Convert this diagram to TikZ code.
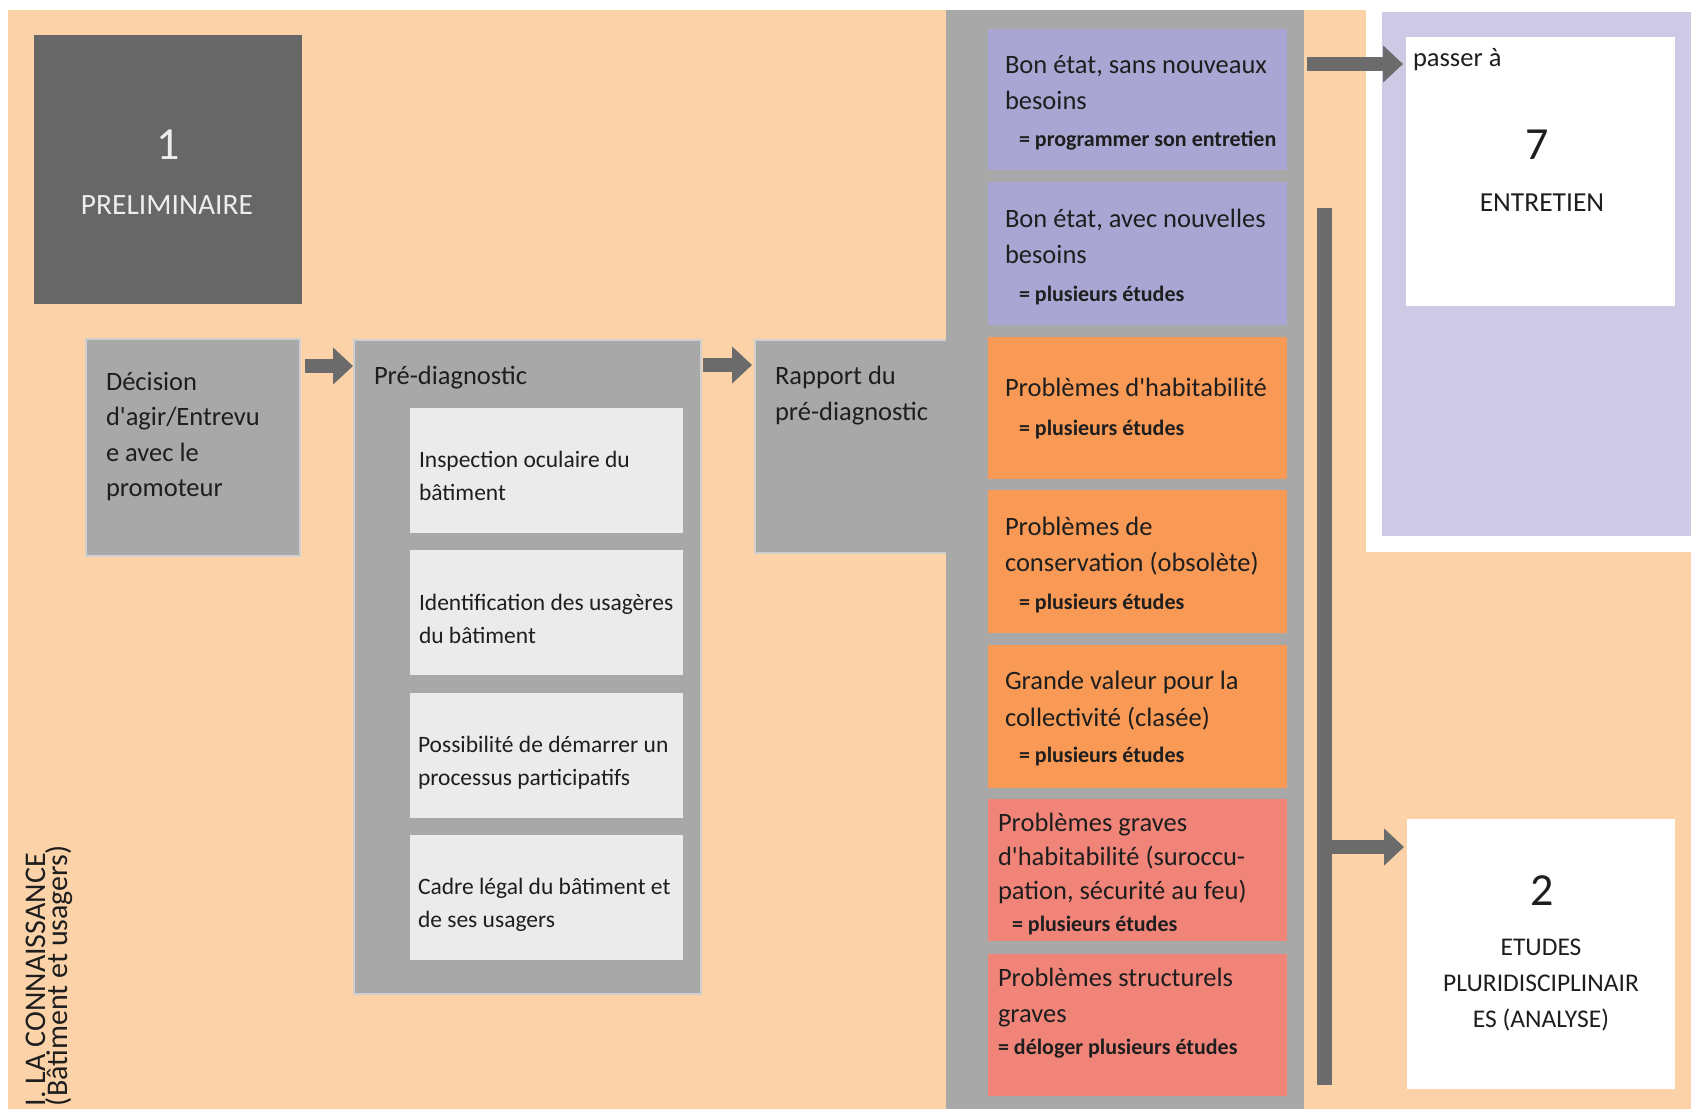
\documentclass[tikz,border=0pt]{standalone}
\usepackage{fontspec}
\setmainfont{Carlito}[Ligatures=TeXOff]
\usetikzlibrary{arrows.meta,calc}
\definecolor{peach}{HTML}{FCD3A8}
\definecolor{darkbox}{HTML}{676767}
\definecolor{midgray}{HTML}{A8A8A8}
\definecolor{edgegray}{HTML}{CFCFCF}
\definecolor{lightbox}{HTML}{EBEBEB}
\definecolor{purplebox}{HTML}{A9A6D3}
\definecolor{orangebox}{HTML}{F89A55}
\definecolor{redbox}{HTML}{F18479}
\definecolor{lavender}{HTML}{CECAE6}
\definecolor{arrowgray}{HTML}{6B6B6B}
\definecolor{ink}{HTML}{1E1E1E}
\definecolor{prelimtext}{HTML}{EDEDED}
\newcommand\mlines[2]{\vtop{\baselineskip=#1\lineskiplimit=-\maxdimen\lineskip=0pt\relax#2}}
\begin{document}
\begin{tikzpicture}[x=1pt,y=-1pt,
  area/.style={fill=#1,draw=none,inner sep=0pt,outer sep=0pt,anchor=north west},
  txt/.style={inner sep=0pt,outer sep=0pt,text=ink,anchor=base west,font=\fontsize{26.5}{32}\selectfont},
  smalltxt/.style={txt,font=\fontsize{23.5}{28}\selectfont},
  boldtxt/.style={txt,font=\bfseries\fontsize{22}{26}\selectfont},
  bigtxt/.style={txt,anchor=base,font=\fontsize{46}{50}\selectfont},
  captxt/.style={txt,anchor=base,font=\fontsize{#1}{30}\selectfont},
  bigarrow/.style={draw=arrowgray,line width=14pt,-{Triangle[length=20pt,width=36pt]}}]
\useasboundingbox (0,0) rectangle (1691,1109);
\fill[white] (0,0) rectangle (1691,1109);
% background
\node[area=peach,minimum width=1683,minimum height=1099] (bg) at (8,10) {};
% preliminaire
\node[area=darkbox,minimum width=268,minimum height=269] (prelim) at (34,35) {};
\node[bigtxt,text=prelimtext] (t1) at (168,159) {1};
\node[captxt=29.5,text=prelimtext] (tprelim) at (167,214) {PRELIMINAIRE};
% decision
\node[area=midgray,draw=edgegray,line width=1.5pt,minimum width=214,minimum height=217] (dec) at (86,339) {};
\node[txt] (tdec) at (106,390) {\mlines{35.6pt}{\hbox{Décision}\hbox{d'agir/Entrevu}\hbox{e avec le}\hbox{promoteur}}};
% pre-diagnostic
\node[area=midgray,draw=edgegray,line width=1.5pt,minimum width=347,minimum height=654] (pre) at (354,340) {};
\node[txt] (tpre) at (374,384) {Pré-diagnostic};
\node[area=lightbox,minimum width=273,minimum height=125] (ib1) at (410,408) {};
\node[area=lightbox,minimum width=273,minimum height=125] (ib2) at (410,550) {};
\node[area=lightbox,minimum width=273,minimum height=125] (ib3) at (410,693) {};
\node[area=lightbox,minimum width=273,minimum height=125] (ib4) at (410,835) {};
\node[smalltxt] (tib1) at (419,467) {\mlines{33.5pt}{\hbox{Inspection oculaire du}\hbox{bâtiment}}};
\node[smalltxt] (tib2) at (419,610) {\mlines{33.5pt}{\hbox{Identification des usagères}\hbox{du bâtiment}}};
\node[smalltxt] (tib3) at (418,752) {\mlines{33.5pt}{\hbox{Possibilité de démarrer un}\hbox{processus participatifs}}};
\node[smalltxt] (tib4) at (418,894) {\mlines{33.5pt}{\hbox{Cadre légal du bâtiment et}\hbox{de ses usagers}}};
% rapport + column
\node[area=midgray,draw=edgegray,line width=1.5pt,minimum width=196,minimum height=213] (rap) at (755,340) {};
\node[area=midgray,minimum width=358,minimum height=1099] (col) at (946,10) {};
\node[txt] (trap) at (775,384) {\mlines{36pt}{\hbox{Rapport du}\hbox{pré-diagnostic}}};
% coloured boxes
\node[area=purplebox,minimum width=299,minimum height=141] (bA) at (988,29) {};
\node[area=purplebox,minimum width=299,minimum height=143] (bB) at (988,182) {};
\node[area=orangebox,minimum width=299,minimum height=142] (bC) at (988,337) {};
\node[area=orangebox,minimum width=299,minimum height=143] (bD) at (988,490) {};
\node[area=orangebox,minimum width=299,minimum height=143] (bE) at (988,645) {};
\node[area=redbox,minimum width=299,minimum height=142] (bF) at (988,799) {};
\node[area=redbox,minimum width=299,minimum height=142] (bG) at (988,954) {};
\node[txt] (tA) at (1005,73) {\mlines{36pt}{\hbox{Bon état, sans nouveaux}\hbox{besoins}}};
\node[boldtxt] (sA) at (1019,146) {= programmer son entretien};
\node[txt] (tB) at (1005,227) {\mlines{36pt}{\hbox{Bon état, avec nouvelles}\hbox{besoins}}};
\node[boldtxt] (sB) at (1019,301) {= plusieurs études};
\node[txt] (tC) at (1005,396) {Problèmes d'habitabilité};
\node[boldtxt] (sC) at (1019,435) {= plusieurs études};
\node[txt] (tD) at (1005,535) {\mlines{36pt}{\hbox{Problèmes de}\hbox{conservation (obsolète)}}};
\node[boldtxt] (sD) at (1019,609) {= plusieurs études};
\node[txt] (tE) at (1005,689) {\mlines{37pt}{\hbox{Grande valeur pour la}\hbox{collectivité (clasée)}}};
\node[boldtxt] (sE) at (1019,762) {= plusieurs études};
\node[txt] (tF) at (998,831) {\mlines{34pt}{\hbox{Problèmes graves}\hbox{d'habitabilité (suroccu-}\hbox{pation, sécurité au feu)}}};
\node[boldtxt] (sF) at (1012,931) {= plusieurs études};
\node[txt] (tG) at (998,986) {\mlines{36pt}{\hbox{Problèmes structurels}\hbox{graves}}};
\node[boldtxt] (sG) at (998,1054) {= déloger plusieurs études};
% entretien frame
\node[area=white,minimum width=325,minimum height=542] (frame) at (1366,10) {};
\node[area=lavender,minimum width=309,minimum height=524] (lav) at (1382,12) {};
\node[area=white,minimum width=269,minimum height=269] (b7) at (1406,37) {};
\node[txt] (tpass) at (1413,66) {passer à};
\node[bigtxt] (t7) at (1537,159) {7};
\node[captxt=27.5] (tent) at (1542,211) {ENTRETIEN};
% etudes
\node[area=white,minimum width=268,minimum height=270] (b2) at (1407,819) {};
\node[bigtxt] (t2) at (1542,905) {2};
\node[captxt=25.5] (tet1) at (1541,955) {ETUDES};
\node[captxt=25.5] (tet2) at (1541,991) {PLURIDISCIPLINAIR};
\node[captxt=25.5] (tet3) at (1541,1027) {ES (ANALYSE)};
% vertical label
\node[txt,rotate=90,font=\fontsize{30}{30}\selectfont] (v1) at (45,1106) {I. LA CONNAISSANCE};
\node[txt,rotate=90,font=\fontsize{30}{30}\selectfont] (v2) at (67,1106) {(Bâtiment et usagers)};
% bar and arrows
\node[area=arrowgray,minimum width=15,minimum height=877] (bar) at (1317,208) {};
\coordinate (a1s) at ($(dec.north east)+(5,27)$);
\draw[bigarrow,shorten >=1pt] (a1s) -- (pre.west |- a1s);
\coordinate (a2s) at ($(pre.north east)+(2,25)$);
\draw[bigarrow,shorten >=3pt] (a2s) -- (rap.west |- a2s);
\coordinate (a3e) at ($(b7.north west)+(-3,27)$);
\draw[bigarrow,shorten <=3pt] (col.east |- a3e) -- (a3e);
\coordinate (a4e) at ($(b2.north west)+(-3,28)$);
\draw[bigarrow] (bar.center |- a4e) -- (a4e);
\end{tikzpicture}
\end{document}
